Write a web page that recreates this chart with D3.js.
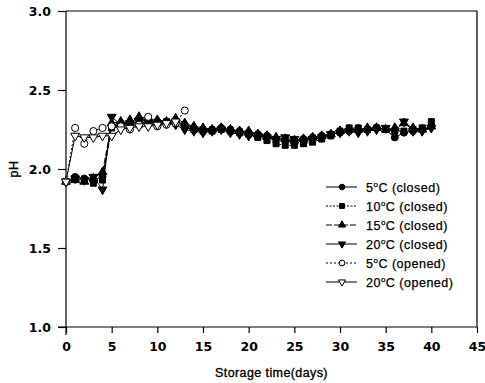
<!DOCTYPE html>
<html>
<head>
<meta charset="utf-8">
<script src="https://cdn.jsdelivr.net/npm/d3@7"></script>
<style>
    body { margin: 0; background: #fff; }
    svg { display: block; }
    .tick-label { font-family: "DejaVu Sans", sans-serif; font-weight: bold; font-size: 12.5px; }
    .axis-title { font-family: "Liberation Sans", Arial, sans-serif; font-size: 12.5px; letter-spacing: 0.4px; stroke: #000; stroke-width: 0.35px; }
    .legend-text { font-family: "Liberation Sans", Arial, sans-serif; font-size: 12.5px; letter-spacing: 0.5px; stroke: #000; stroke-width: 0.25px; }
</style>
</head>
<body>
<svg id="chart" width="485" height="383"></svg>
<script>
// storage days
const daysClosed = d3.range(0, 41);
const daysOpen5 = d3.range(0, 14);
const daysOpen20 = d3.range(0, 13);

const ph5Closed = [1.92, 1.95, 1.94, 1.93, 1.95, 2.27, 2.28, 2.29, 2.28, 2.29, 2.30, 2.29, 2.30, 2.28,
    2.26, 2.25, 2.25, 2.26, 2.25, 2.24, 2.23, 2.22, 2.21, 2.19, 2.18, 2.18, 2.19, 2.20, 2.21, 2.22,
    2.23, 2.24, 2.25, 2.25, 2.26, 2.25, 2.20, 2.23, 2.24, 2.25, 2.27];
const ph10Closed = [1.92, 1.94, 1.93, 1.91, 1.93, 2.26, 2.27, 2.28, 2.28, 2.29, 2.29, 2.30, 2.29, 2.27,
    2.25, 2.24, 2.24, 2.25, 2.24, 2.23, 2.22, 2.20, 2.18, 2.16, 2.15, 2.15, 2.16, 2.17, 2.19, 2.21,
    2.24, 2.26, 2.26, 2.25, 2.26, 2.25, 2.24, 2.24, 2.25, 2.26, 2.30];
const ph15Closed = [1.92, 1.93, 1.92, 1.94, 1.98, 2.29, 2.30, 2.31, 2.33, 2.32, 2.31, 2.30, 2.32, 2.29,
    2.27, 2.26, 2.25, 2.26, 2.25, 2.24, 2.24, 2.22, 2.21, 2.20, 2.19, 2.18, 2.19, 2.20, 2.21, 2.22,
    2.24, 2.25, 2.25, 2.26, 2.26, 2.25, 2.26, 2.29, 2.26, 2.25, 2.27];
const ph20Closed = [1.92, 1.94, 1.93, 1.95, 1.87, 2.33, 2.28, 2.29, 2.30, 2.29, 2.28, 2.29, 2.28, 2.25,
    2.24, 2.23, 2.24, 2.25, 2.23, 2.22, 2.21, 2.21, 2.20, 2.19, 2.20, 2.19, 2.18, 2.19, 2.20, 2.22,
    2.23, 2.24, 2.23, 2.24, 2.25, 2.26, 2.24, 2.30, 2.24, 2.24, 2.26];
const ph5Open = [1.92, 2.26, 2.16, 2.24, 2.26, 2.27, 2.27, 2.25, 2.28, 2.33, 2.27, 2.28, 2.29, 2.37];
const ph20Open = [1.92, 2.21, 2.20, 2.20, 2.21, 2.21, 2.25, 2.26, 2.27, 2.27, 2.28, 2.29, 2.30];

const seriesNames = ['5°C (closed)', '10°C (closed)', '15°C (closed)', '20°C (closed)', '5°C (opened)', '20°C (opened)'];
const xTicks = d3.range(0, 46, 5);
const yTicks = [1.0, 1.5, 2.0, 2.5, 3.0];

const series = [
    { name: seriesNames[0], days: daysClosed, values: ph5Closed, symbol: d3.symbolCircle, size: 38, fill: '#000', dash: null, rot: 0 },
    { name: seriesNames[1], days: daysClosed, values: ph10Closed, symbol: d3.symbolSquare, size: 36, fill: '#000', dash: '2,1.5', rot: 0 },
    { name: seriesNames[2], days: daysClosed, values: ph15Closed, symbol: d3.symbolTriangle, size: 34, fill: '#000', dash: '6,2', rot: 0 },
    { name: seriesNames[3], days: daysClosed, values: ph20Closed, symbol: d3.symbolTriangle, size: 34, fill: '#000', dash: null, rot: 180 },
    { name: seriesNames[4], days: daysOpen5, values: ph5Open, symbol: d3.symbolCircle, size: 40, fill: '#fff', dash: '2,2', rot: 0 },
    { name: seriesNames[5], days: daysOpen20, values: ph20Open, symbol: d3.symbolTriangle, size: 34, fill: '#fff', dash: null, rot: 180 }
];

const svg = d3.select('#chart');
const marginLeft = 66, marginRight = 8, marginTop = 11, marginBottom = 56;
const width = 485, height = 383;

const xScale = d3.scaleLinear().domain([0, 45]).range([marginLeft, width - marginRight]);
const yScale = d3.scaleLinear().domain([1, 3]).range([height - marginBottom, marginTop]);

// frame top/right
svg.append('path')
    .attr('d', `M${xScale(0)},${yScale(3)}H${xScale(45)}V${yScale(1)}`)
    .attr('fill', 'none').attr('stroke', '#000').attr('stroke-width', 1.2);

// y axis
const yAxisGroup = svg.append('g')
    .attr('transform', `translate(${xScale(0)},0)`)
    .call(d3.axisLeft(yScale).tickValues(yTicks).tickFormat(d3.format('.1f')).tickSize(8).tickPadding(7));
// x axis
const xAxisGroup = svg.append('g')
    .attr('transform', `translate(0,${yScale(1)})`)
    .call(d3.axisBottom(xScale).tickValues(xTicks).tickSize(6).tickPadding(9));

[yAxisGroup, xAxisGroup].forEach(g => {
    g.select('.domain').attr('stroke-width', 1.2);
    g.selectAll('.tick line').attr('stroke-width', 1.2);
    g.selectAll('.tick text').attr('class', 'tick-label').attr('fill', '#000');
});
yAxisGroup.select('.domain').attr('d', `M0,${yScale(3)}V${yScale(1) + 8}`);
xAxisGroup.select('.domain').attr('d', `M${xScale(0) - 8},0H${xScale(45)}`);

// axis titles
svg.append('text')
    .attr('class', 'axis-title')
    .attr('x', (xScale(0) + xScale(45)) / 2)
    .attr('y', 377)
    .attr('text-anchor', 'middle')
    .text('Storage time(days)');
svg.append('text')
    .attr('class', 'axis-title')
    .attr('transform', `translate(18,${yScale(2)}) rotate(-90)`)
    .attr('text-anchor', 'middle')
    .text('pH');

// lines
const line = d3.line().x(d => xScale(d[0])).y(d => yScale(d[1]));
series.forEach(s => {
    const pts = s.days.map((d, i) => [d, s.values[i]]);
    svg.append('path')
        .attr('d', line(pts))
        .attr('fill', 'none')
        .attr('stroke', '#000')
        .attr('stroke-width', 1)
        .attr('stroke-dasharray', s.dash);
});

// markers
series.forEach(s => {
    const sym = d3.symbol().type(s.symbol).size(s.size);
    svg.append('g').selectAll('path')
        .data(s.days.map((d, i) => [d, s.values[i]]))
        .join('path')
        .attr('d', sym)
        .attr('transform', d => `translate(${xScale(d[0])},${yScale(d[1])}) rotate(${s.rot})`)
        .attr('fill', s.fill)
        .attr('stroke', '#000')
        .attr('stroke-width', 1);
});

// legend
const legend = svg.append('g').attr('transform', 'translate(326,187)');
series.forEach((s, i) => {
    const row = legend.append('g').attr('transform', `translate(0,${i * 19})`);
    row.append('line')
        .attr('x1', 0).attr('x2', 31).attr('y1', 0).attr('y2', 0)
        .attr('stroke', '#000').attr('stroke-width', 1)
        .attr('stroke-dasharray', s.dash);
    row.append('path')
        .attr('d', d3.symbol().type(s.symbol).size(s.size * 0.65)())
        .attr('transform', `translate(16,0) rotate(${s.rot})`)
        .attr('fill', s.fill).attr('stroke', '#000');
    const parts = s.name.split('°');
    const t = row.append('text')
        .attr('class', 'legend-text')
        .attr('x', 40).attr('y', 4.5);
    t.append('tspan').text(parts[0]);
    t.append('tspan').attr('dy', -5).attr('font-size', '8px').text('o');
    t.append('tspan').attr('dy', 5).text(parts[1]);
});
</script>
</body>
</html>
